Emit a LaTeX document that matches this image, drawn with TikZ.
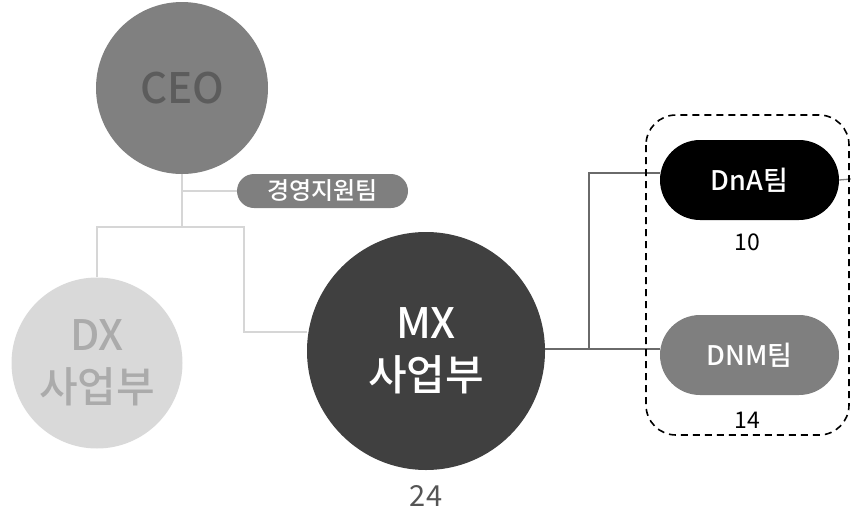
\documentclass[tikz,border=0pt]{standalone}
\usepackage{fontspec}
\setmainfont{Noto Sans CJK KR Medium}
\newfontfamily\regfont{Noto Sans CJK KR}
\usetikzlibrary{positioning}
\definecolor{ceofill}{HTML}{808080}
\definecolor{ceotext}{HTML}{5C5C5C}
\definecolor{dxfill}{HTML}{D9D9D9}
\definecolor{dxtext}{HTML}{ABABAB}
\definecolor{mxfill}{HTML}{404040}
\definecolor{pillgray}{HTML}{7F7F7F}
\definecolor{lightline}{HTML}{D6D6D6}
\definecolor{darkline}{HTML}{6A6A6A}
\definecolor{numtext}{HTML}{555555}
\tikzset{
  x=1pt, y=-1pt,
  orgcircle/.style={circle, inner sep=0pt, align=center, font=\fontsize{42}{52}\selectfont},
  teampill/.style={rounded corners=40pt, minimum width=179pt, minimum height=80pt, inner sep=0pt, text=white, font=\fontsize{27}{32}\selectfont},
  numlabel/.style={inner sep=0pt},
  lightconn/.style={draw=lightline, line width=1.5pt},
  darkconn/.style={draw=darkline, line width=1.3pt},
}
\begin{document}
\begin{tikzpicture}
\useasboundingbox (0,0) rectangle (851,514);
% nodes
\node[orgcircle, fill=ceofill, text=ceotext, minimum size=172pt] (ceo) at (182,88) {CEO};
\node[orgcircle, fill=dxfill, text=dxtext, minimum size=171pt] (dx) at (97,363) {DX\\사업부};
\node[orgcircle, fill=mxfill, text=white, minimum size=238pt] (mx) at (426,351) {MX\\사업부};
\node[rounded corners=17pt, fill=pillgray, text=white, minimum width=171pt, minimum height=34pt, inner sep=0pt, font=\fontsize{24}{28}\selectfont] (support) at (322.5,191) {경영지원팀};
\node[teampill, fill=black] (dna) at (749.5,180) {DnA팀};
\node[teampill, fill=pillgray] (dnm) at (749.5,355) {DNM팀};
\node[numlabel, text=black, font=\regfont\fontsize{23}{26}\selectfont] (n10) at (747,242) {10};
\node[numlabel, text=black, font=\regfont\fontsize{23}{26}\selectfont] (n14) at (747,420) {14};
\node[numlabel, text=numtext, font=\regfont\fontsize{29}{32}\selectfont] (n24) at (426,496) {24};
% junction coordinates
\coordinate (j1) at (182,191);
\coordinate (j2) at (182,227);
\coordinate (j3) at (589,349);
\coordinate (edge) at (851,179);
% light connectors
\draw[lightconn] (ceo.south) -- (j2);
\draw[lightconn] (j1) -- (support.west);
\draw[lightconn] (dx.north) |- (j2) -| (244,332) -- (mx.west |- 0,332);
% dark connectors
\draw[darkconn] (mx.east |- j3) -- (dnm.west |- j3);
\draw[darkconn] (j3) |- (dna.west |- 0,173);
\draw[darkconn, draw=gray] (dna.east) -- (edge);
% dashed group
\draw[line width=1.6pt, rounded corners=30pt, dash pattern=on 7pt off 5pt] (646,115) rectangle (849,435);
\end{tikzpicture}
\end{document}
